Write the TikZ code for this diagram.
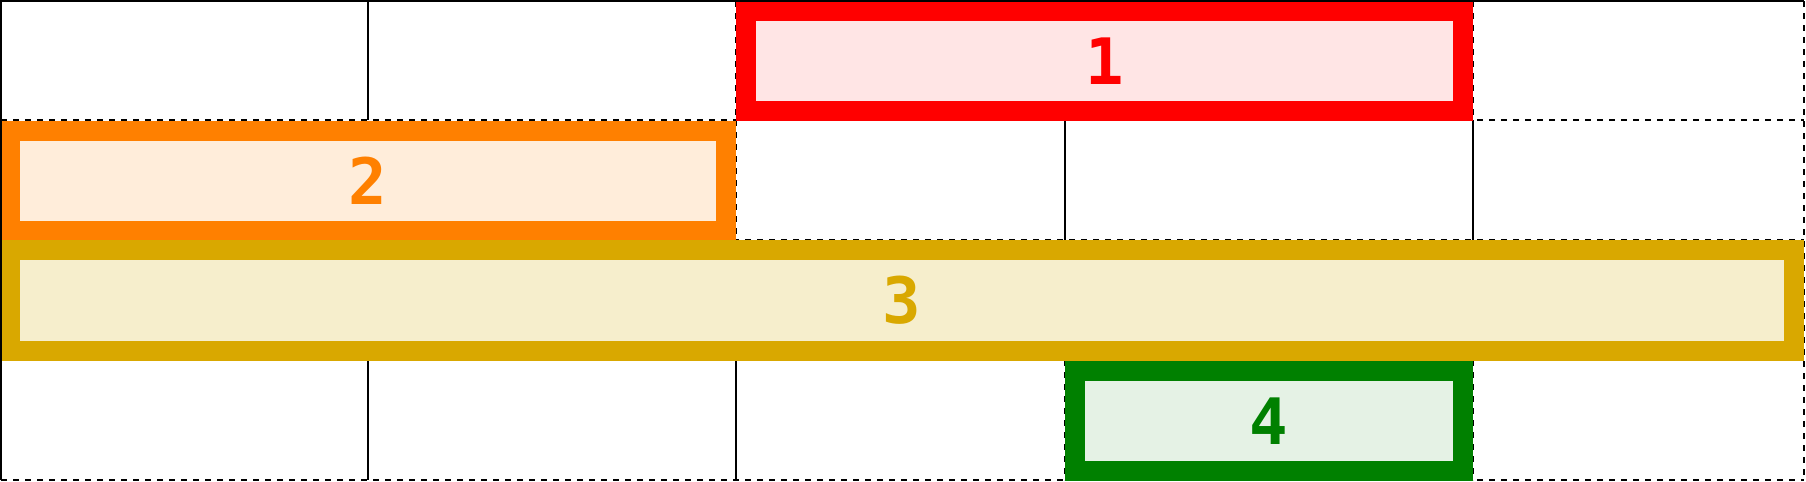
\documentclass[tikz,border=0pt]{standalone}
\usepackage{fontspec}
\setmonofont{DejaVu Sans Mono}
\definecolor{redline}{RGB}{255,0,0}
\definecolor{redfill}{RGB}{255,229,229}
\definecolor{orangeline}{RGB}{255,128,0}
\definecolor{orangefill}{RGB}{255,237,218}
\definecolor{goldline}{RGB}{217,168,0}
\definecolor{goldfill}{RGB}{246,238,204}
\definecolor{greenline}{RGB}{0,128,0}
\definecolor{greenfill}{RGB}{229,242,229}
\tikzset{
  gridsolid/.style={draw=black,line width=1pt},
  griddash/.style={draw=black,line width=1pt,dash pattern=on 3pt off 3pt},
  item/.style={rectangle,line width=10pt,inner sep=0pt,
    font=\ttfamily\bfseries\fontsize{32}{32}\selectfont},
}
\begin{document}
\begin{tikzpicture}[x=0.5pt,y=-0.5pt]
\useasboundingbox (0,0) rectangle (1806,482);
\fill[white] (0,0) rectangle (1806,482);
% horizontal grid lines
\draw[griddash] (1,120) -- (1804,120);
\draw[griddash] (1,240) -- (1804,240);
\draw[griddash] (1,360) -- (1804,360);
\draw[griddash] (1,480) -- (1804,480);
\draw[griddash] (1804,1) -- (1804,480);
% vertical grid lines, row 1
\draw[gridsolid] (368,1) -- (368,120);
\draw[griddash] (736,1) -- (736,120);
\draw[griddash] (1473,1) -- (1473,120);
% row 2
\draw[griddash] (736,120) -- (736,240);
\draw[gridsolid] (1065,120) -- (1065,240);
\draw[gridsolid] (1473,120) -- (1473,240);
% row 4
\draw[gridsolid] (368,360) -- (368,480);
\draw[gridsolid] (736,360) -- (736,480);
\draw[griddash] (1065,360) -- (1065,480);
\draw[griddash] (1473,360) -- (1473,480);
% items
\node[item,draw=redline,fill=redfill,text=redline,minimum width=358.5pt,minimum height=50pt] (one) at (1104.5,61) {1};
\node[item,draw=orangeline,fill=orangefill,text=orangeline,minimum width=358pt,minimum height=50pt] (two) at (368,181) {2};
\node[item,draw=goldline,fill=goldfill,text=goldline,minimum width=892pt,minimum height=50.5pt] (three) at (902,300.5) {3};
\node[item,draw=greenline,fill=greenfill,text=greenline,minimum width=194pt,minimum height=50pt] (four) at (1269,421) {4};
% outer solid edges
\draw[gridsolid,line width=1.2pt] (1,480) -- (1,1) -- (1804,1);
\end{tikzpicture}
\end{document}
